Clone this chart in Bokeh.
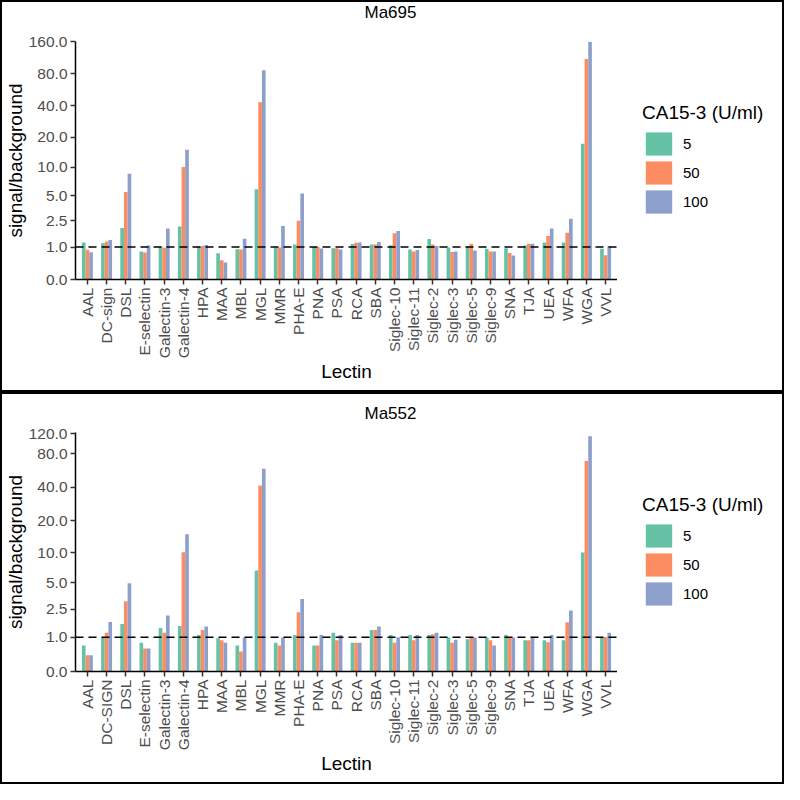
import numpy as np
from bokeh.plotting import figure
from bokeh.models import (FactorRange, Range1d, FixedTicker, CustomJSTickFormatter,
                          Span, Legend, LegendItem, ColumnDataSource, Title)
from bokeh.transform import dodge
from bokeh.layouts import column, row
from bokeh.embed import file_html
from bokeh.resources import INLINE

# ---------------- data ----------------
lectins_top = ["AAL", "DC-sign", "DSL", "E-selectin", "Galectin-3", "Galectin-4", "HPA", "MAA",
               "MBL", "MGL", "MMR", "PHA-E", "PNA", "PSA", "RCA", "SBA", "Siglec-10", "Siglec-11",
               "Siglec-2", "Siglec-3", "Siglec-5", "Siglec-9", "SNA", "TJA", "UEA", "WFA", "WGA", "VVL"]
lectins_bottom = ["AAL", "DC-SIGN", "DSL", "E-selectin", "Galectin-3", "Galectin-4", "HPA", "MAA",
                  "MBL", "MGL", "MMR", "PHA-E", "PNA", "PSA", "RCA", "SBA", "Siglec-10", "Siglec-11",
                  "Siglec-2", "Siglec-3", "Siglec-5", "Siglec-9", "SNA", "TJA", "UEA", "WFA", "WGA", "VVL"]

concentrations = ["5", "50", "100"]

# Ma695
ma695_c5 = [1.20, 1.17, 2.0, 0.82, 1.02, 2.11, 1.04, 0.75, 0.91, 5.88, 0.98, 1.11, 1.00, 0.95,
            1.14, 1.11, 1.08, 0.90, 1.38, 0.98, 1.04, 0.93, 0.95, 1.07, 1.20, 1.20, 17.2, 0.93]
ma695_c50 = [0.89, 1.25, 5.5, 0.78, 0.97, 10.1, 1.05, 0.51, 0.90, 43.3, 0.98, 2.52, 1.00, 0.95,
             1.19, 1.11, 1.69, 0.82, 1.11, 0.80, 1.15, 0.82, 0.76, 1.15, 1.53, 1.72, 110.6, 0.68]
ma695_c100 = [0.79, 1.33, 8.6, 1.07, 1.98, 15.0, 1.09, 0.44, 1.39, 86.7, 2.13, 5.3, 0.94, 0.90,
              1.21, 1.23, 1.82, 0.88, 1.05, 0.82, 0.86, 0.82, 0.67, 1.15, 1.98, 2.67, 160.0, 1.04]

# Ma552
ma552_c5 = [0.69, 0.99, 1.6, 0.79, 1.40, 1.50, 1.09, 0.96, 0.69, 6.67, 0.79, 1.09, 0.69, 1.19,
            0.79, 1.31, 1.09, 1.09, 1.09, 0.99, 0.92, 0.99, 1.09, 0.88, 0.88, 0.88, 10.0, 1.01]
ma552_c50 = [0.39, 1.19, 3.12, 0.59, 1.19, 10.1, 1.31, 0.88, 0.50, 41.5, 0.69, 2.30, 0.69, 0.88,
             0.79, 1.31, 0.79, 0.88, 1.12, 0.79, 0.99, 0.88, 0.99, 0.88, 0.80, 1.70, 68.9, 1.01]
ma552_c100 = [0.39, 1.72, 4.92, 0.59, 2.10, 14.9, 1.48, 0.79, 0.99, 58.7, 0.99, 3.32, 1.09, 1.09,
              0.79, 1.48, 1.00, 1.09, 1.19, 0.90, 0.99, 0.69, 0.99, 1.01, 1.09, 2.42, 113.8, 1.19]

ticks_top = [0, 1, 2.5, 5, 10, 20, 40, 80, 160]
ticks_bottom = [0, 1, 2.5, 5, 10, 20, 40, 80, 120]
ymax_top = 161.0
ymax_bottom = 123.0
threshold = 1.0

colors = ["#66C2A5", "#FC8D62", "#8DA0CB"]
FONT = "Liberation Sans"

LEFT_BOX = {"box-shadow": "inset 2px 0 0 0 #000, inset 0 2px 0 0 #000, inset 0 -2px 0 0 #000",
            "background-color": "white"}
RIGHT_BOX = {"box-shadow": "inset -2px 0 0 0 #000, inset 0 2px 0 0 #000, inset 0 -2px 0 0 #000",
             "background-color": "white"}


def t(v):
    return np.log10(np.asarray(v, dtype=float) + 1.0)


def make_main(title, lectins, series, ticks, ymax, high_title):
    p = figure(width=617, height=392, output_backend="svg", toolbar_location=None,
               x_range=FactorRange(factors=lectins, range_padding=0.12,
                                   range_padding_units="absolute"),
               y_range=Range1d(0, float(t(ymax))),
               min_border_left=75, min_border_right=0, min_border_top=39,
               min_border_bottom=113)
    p.styles = LEFT_BOX
    p.outline_line_color = None
    p.xgrid.grid_line_color = None
    p.ygrid.grid_line_color = None
    p.background_fill_color = "white"
    p.border_fill_alpha = 0

    src = ColumnDataSource(dict(lectin=lectins,
                                v5=t(series[0]), v50=t(series[1]), v100=t(series[2])))
    offsets = [-0.19, 0.0, 0.19]
    keys = ["v5", "v50", "v100"]
    for k, off, c in zip(keys, offsets, colors):
        p.vbar(x=dodge("lectin", off, range=p.x_range), top=k, bottom=0, width=0.19,
               source=src, fill_color=c, line_color=None)

    p.add_layout(Span(location=float(t(threshold)), dimension="width", line_color="black",
                      line_dash="8 5", line_width=1.5))

    if high_title:
        # blank spacer next to the frame pushes the title up to the panel's top edge
        spacer = Title(text="\u00a0", text_font=FONT, text_font_size="17px", standoff=-1)
        p.add_layout(spacer, "above")
        main_title = Title(text=title, text_font=FONT, text_font_size="17px",
                           text_font_style="normal", text_color="black", align="left",
                           offset=289, standoff=0)
    else:
        main_title = Title(text=title, text_font=FONT, text_font_size="17px",
                           text_font_style="normal", text_color="black", align="left",
                           offset=289, standoff=19)
    p.add_layout(main_title, "above")

    # y axis
    yax = p.yaxis[0]
    yax.ticker = FixedTicker(ticks=[float(x) for x in t(ticks)])
    yax.formatter = CustomJSTickFormatter(
        args=dict(vals=[float(x) for x in t(ticks)], labs=["%.1f" % x for x in ticks]),
        code="""
        let best = 0, bd = 1e9;
        for (let i = 0; i < vals.length; i++) {
            const d = Math.abs(vals[i] - tick);
            if (d < bd) { bd = d; best = i; }
        }
        return labs[best];
        """)
    yax.axis_label = "signal/background"
    yax.minor_tick_line_color = None

    xax = p.xaxis[0]
    xax.axis_label = "Lectin"
    xax.major_label_orientation = np.pi / 2

    for ax in (xax, yax):
        ax.axis_line_width = 1.5
        ax.axis_line_color = "black"
        ax.major_tick_line_color = "#333333"
        ax.major_tick_line_width = 1.5
        ax.major_tick_in = 0
        ax.major_tick_out = 5
        ax.major_label_standoff = 3
        ax.major_label_text_font = FONT
        ax.major_label_text_font_size = "15.5px"
        ax.major_label_text_color = "#4D4D4D"
        ax.axis_label_text_font = FONT
        ax.axis_label_text_font_size = "19px"
        ax.axis_label_text_font_style = "normal"
        ax.axis_label_text_color = "black"
    yax.axis_label_standoff = 0
    xax.axis_label_standoff = 0
    return p


def make_legend_fig():
    q = figure(width=167, height=392, output_backend="svg", toolbar_location=None,
               x_range=Range1d(0, 1), y_range=Range1d(0, 1),
               x_axis_type=None, y_axis_type=None,
               min_border_left=0, min_border_right=0, min_border_top=0, min_border_bottom=0)
    q.styles = RIGHT_BOX
    q.outline_line_color = None
    q.xgrid.grid_line_color = None
    q.ygrid.grid_line_color = None
    q.background_fill_alpha = 0
    q.border_fill_alpha = 0
    # legend keys only (the dummy bars sit outside the visible range)
    src = ColumnDataSource(dict(x=[-5.0], top=[0.0]))
    rends = [q.vbar(x="x", top="top", bottom=0, width=0.1, source=src,
                    fill_color=c, line_color=None) for c in colors]
    legend = Legend(items=[LegendItem(label=c, renderers=[r]) for c, r in zip(concentrations, rends)],
                    title="CA15-3 (U/ml)", location=(25, 63))
    legend.title_text_font = FONT
    legend.title_text_font_size = "19px"
    legend.title_text_font_style = "normal"
    legend.title_text_color = "black"
    legend.title_standoff = 5
    legend.label_text_font = FONT
    legend.label_text_font_size = "15px"
    legend.label_text_color = "black"
    legend.glyph_width = 33
    legend.glyph_height = 29
    legend.spacing = 0
    legend.label_standoff = 8
    legend.padding = 0
    legend.margin = 0
    legend.border_line_color = None
    legend.background_fill_alpha = 0
    q.add_layout(legend)
    return q


m1 = make_main("Ma695", lectins_top, [ma695_c5, ma695_c50, ma695_c100], ticks_top, ymax_top, True)
l1 = make_legend_fig()
m2 = make_main("Ma552", lectins_bottom, [ma552_c5, ma552_c50, ma552_c100], ticks_bottom,
               ymax_bottom, False)
l2 = make_legend_fig()

r1 = row(m1, l1, spacing=0)
r2 = row(m2, l2, spacing=0)
layout = column(r1, r2, spacing=0)
open("out.html", "w").write(file_html(layout, INLINE))
